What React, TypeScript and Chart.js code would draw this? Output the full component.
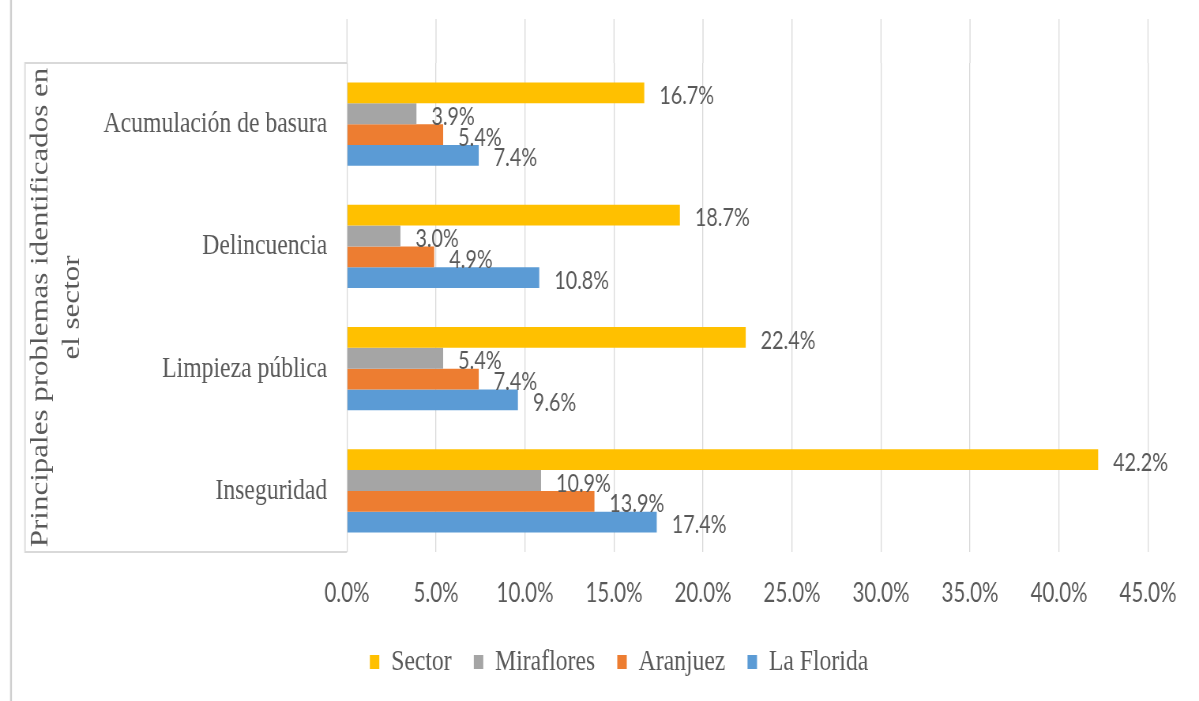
import React, { useEffect, useRef } from "react";
import { Chart, registerables } from "chart.js";

Chart.register(...registerables);

const categories = ["Acumulación de basura", "Delincuencia", "Limpieza pública", "Inseguridad"];
const seriesNames = ["Sector", "Miraflores", "Aranjuez", "La Florida"];
const sectorValues = [16.7, 18.7, 22.4, 42.2];
const mirafloresValues = [3.9, 3.0, 5.4, 10.9];
const aranjuezValues = [5.4, 4.9, 7.4, 13.9];
const laFloridaValues = [7.4, 10.8, 9.6, 17.4];
const axisTitle = ["Principales problemas identificados en", "el sector"];
const xMin = 0;
const xMax = 45;
const xStep = 5;

const COLORS = ["#FFC000", "#A5A5A5", "#ED7D31", "#5B9BD5"];
const TEXT = "#595959";
const SERIF = "'Liberation Serif', 'Times New Roman', serif";
const SANS = "Lato, 'Liberation Sans', sans-serif";

// The reference picture is horizontally squeezed: draw on a wider canvas and squeeze it.
const VIEW_W = 1199;
const VIEW_H = 701;
const CANVAS_W = 1518;
const SX = VIEW_W / CANVAS_W;
const cx = (x: number) => x / SX; // view x -> canvas x

const fmt = (v: number) => v.toFixed(1) + "%";

const framePlugin = {
  id: "frame",
  beforeDraw(chart: any) {
    const ctx = chart.ctx;
    const xs = chart.scales.x;
    const area = chart.chartArea;
    ctx.save();
    ctx.strokeStyle = "#cfcfcf";
    ctx.lineWidth = 2.5;
    ctx.beginPath();
    ctx.moveTo(cx(11), 0);
    ctx.lineTo(cx(11), chart.height);
    ctx.stroke();
    ctx.strokeStyle = "#d9d9d9";
    ctx.lineWidth = 1.8;
    ctx.beginPath();
    ctx.moveTo(area.left, area.top);
    ctx.lineTo(cx(25), area.top);
    ctx.lineTo(cx(25), area.bottom);
    ctx.lineTo(area.left, area.bottom);
    ctx.stroke();
    ctx.lineWidth = 1.3;
    xs.ticks.forEach((t: any) => {
      const px = xs.getPixelForValue(t.value);
      ctx.beginPath();
      ctx.moveTo(px, 19);
      ctx.lineTo(px, area.top);
      ctx.stroke();
    });
    ctx.restore();
  },
};

const labelPlugin = {
  id: "barLabels",
  afterDatasetsDraw(chart: any) {
    const ctx = chart.ctx;
    ctx.save();
    ctx.font = `25px ${SANS}`;
    ctx.fillStyle = TEXT;
    ctx.textAlign = "left";
    ctx.textBaseline = "middle";
    chart.data.datasets.forEach((ds: any, di: number) => {
      const meta = chart.getDatasetMeta(di);
      meta.data.forEach((el: any, i: number) => {
        ctx.fillText(fmt(ds.data[i]), el.x + 19, el.y + 3);
      });
    });
    ctx.restore();
  },
};

export default function App() {
  const ref = useRef<HTMLCanvasElement | null>(null);

  useEffect(() => {
    if (!ref.current) return;
    const values = [sectorValues, mirafloresValues, aranjuezValues, laFloridaValues];
    const padLeft = 114;
    const plotLeft = cx(347);
    const plotRight = cx(1148);
    const titleLine = 31 * 1.3;
    const chart = new Chart(ref.current, {
      type: "bar",
      data: {
        labels: categories,
        datasets: seriesNames.map((name, i) => ({
          label: name,
          data: values[i],
          backgroundColor: COLORS[i],
          borderWidth: 0,
          categoryPercentage: 0.68,
          barPercentage: 1.0,
        })),
      },
      options: {
        indexAxis: "y",
        responsive: false,
        animation: false,
        layout: { padding: { left: padLeft, right: CANVAS_W - plotRight, top: 63, bottom: 14 } },
        scales: {
          x: {
            min: xMin,
            max: xMax,
            border: { display: false },
            grid: { color: "#d9d9d9", lineWidth: 1.3, drawTicks: false },
            ticks: {
              stepSize: xStep,
              padding: 26,
              color: TEXT,
              font: { family: SANS, size: 26 },
              callback: (v: any) => fmt(Number(v)),
            },
            afterFit: (s: any) => {
              s.height = 67;
              s.paddingLeft = 0;
              s.paddingRight = 0;
            },
          },
          y: {
            border: { display: false },
            grid: { display: false },
            ticks: {
              padding: 17,
              color: TEXT,
              font: { family: SERIF, size: 30 },
            },
            title: {
              display: true,
              text: axisTitle,
              color: TEXT,
              font: { family: SERIF, size: 31, lineHeight: 1.3 },
              padding: { top: cx(41) - padLeft - titleLine / 2, bottom: 0 },
            },
            afterFit: (s: any) => {
              s.width = plotLeft - padLeft;
              s.paddingTop = 0;
              s.paddingBottom = 0;
            },
          },
        },
        plugins: {
          legend: {
            position: "bottom",
            labels: {
              boxWidth: 12,
              boxHeight: 14,
              padding: 28,
              color: TEXT,
              font: { family: SERIF, size: 30 },
            },
          },
          tooltip: { enabled: false },
        },
      },
      plugins: [framePlugin, labelPlugin],
    });
    return () => chart.destroy();
  }, []);

  return (
    <div
      style={{
        position: "absolute",
        left: 0,
        top: 0,
        width: VIEW_W,
        height: VIEW_H,
        overflow: "hidden",
        background: "#fff",
      }}
    >
      <div style={{ width: CANVAS_W, height: VIEW_H, transform: `scaleX(${SX})`, transformOrigin: "0 0" }}>
        <canvas ref={ref} width={CANVAS_W} height={VIEW_H} style={{ display: "block" }} />
      </div>
    </div>
  );
}
